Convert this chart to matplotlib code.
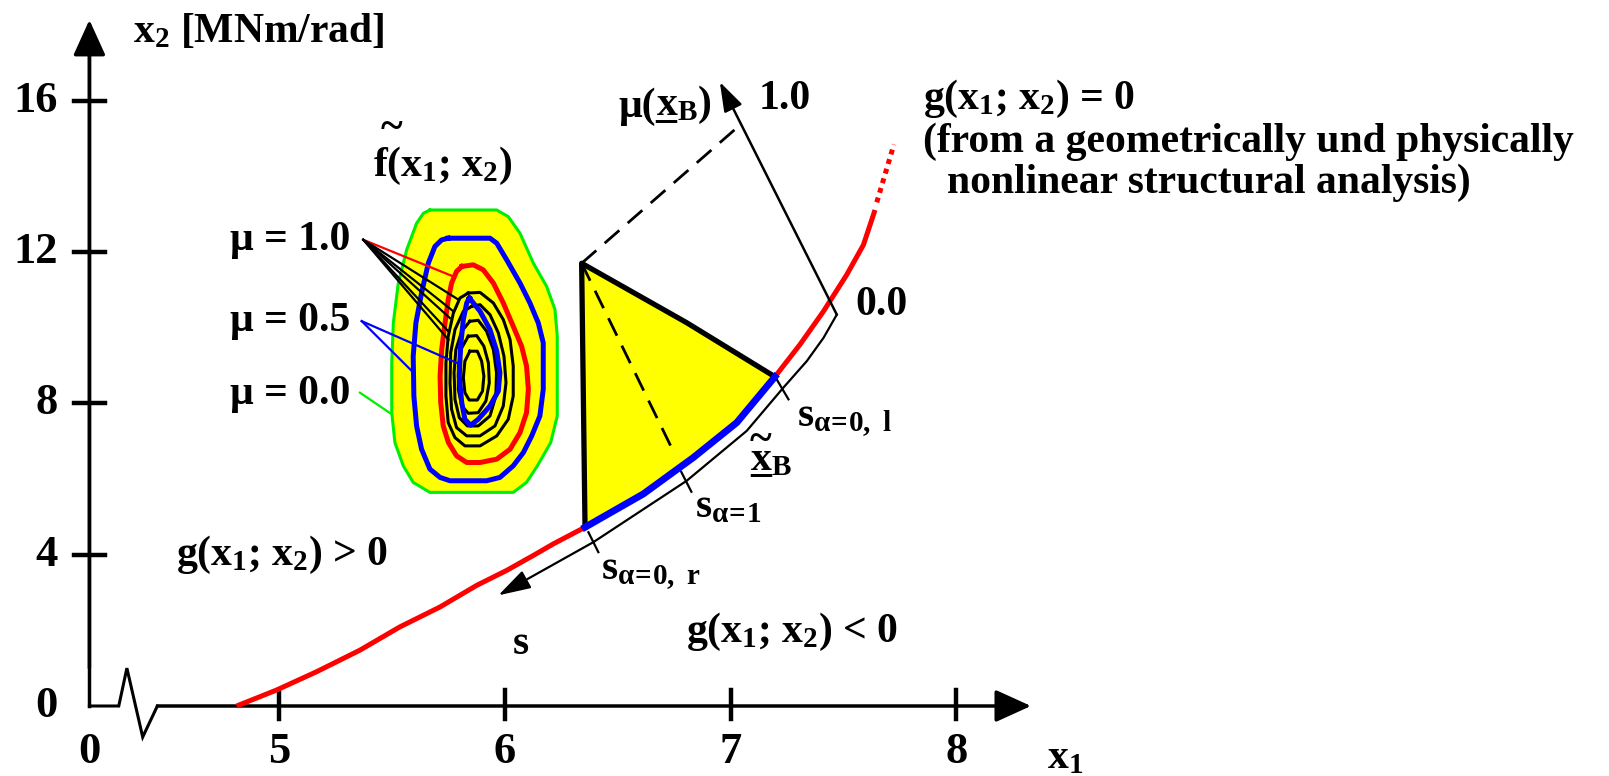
import matplotlib.pyplot as plt

plt.rcParams['font.family'] = ['Liberation Serif', 'DejaVu Serif']
plt.rcParams['font.weight'] = 'bold'
plt.rcParams['font.size'] = 30
plt.rcParams['mathtext.fontset'] = 'custom'
plt.rcParams['mathtext.rm'] = 'Liberation Serif:bold'
plt.rcParams['mathtext.it'] = 'Liberation Serif:bold'
plt.rcParams['mathtext.bf'] = 'Liberation Serif:bold'

# axes (x1 axis is broken, its origin is labelled 0)
x_ticks = [5, 6, 7, 8]
y_ticks = [0, 4, 8, 12, 16]
x_start, x_end, y_end = 4.16, 8.33, 18.13
brk_x1 = [4.16, 4.29, 4.326, 4.396, 4.461]
brk_x2 = [0, 0, 1.0, -0.82, 0]

# limit state g(x1; x2) = 0
g_x1 = [4.812, 4.989, 5.166, 5.358, 5.535, 5.713, 5.875, 6.008, 6.126, 6.215,
        6.355, 6.613, 6.835, 7.027, 7.196, 7.307, 7.411, 7.514, 7.588, 7.632, 7.639]
g_x2 = [0.0, 0.422, 0.905, 1.475, 2.090, 2.617, 3.187, 3.583, 3.978, 4.285,
        4.724, 5.603, 6.567, 7.489, 8.700, 9.552, 10.43, 11.396, 12.186, 12.976, 13.108]
g_ext_x1 = [7.647, 7.723]
g_ext_x2 = [13.31, 14.84]

# fuzzy design point x_B on the limit state
xb_x1 = [6.355, 6.613, 6.835, 7.027, 7.196]
xb_x2 = [4.724, 5.603, 6.567, 7.489, 8.700]
apex = (6.34, 11.70)
right_mid = (6.805, 10.13)

# s coordinate along the limit state and the mu axis
s_x1 = [5.971, 6.392, 6.805, 7.071, 7.233, 7.337, 7.411, 7.470]
s_x2 = [2.924, 4.330, 5.951, 7.270, 8.410, 9.113, 9.727, 10.342]
mu_tip = (6.952, 16.49)
mu_one = (7.041, 15.35)
s_alpha1 = (6.755, 6.62)
s_marks = [((6.370, 4.592), (6.414, 4.065)),
           ((6.781, 6.189), (6.826, 5.662)),
           ((7.204, 8.630), (7.256, 8.104))]

# fuzzy probability density f(x1; x2): alpha-level contours
green = [(5.668, 13.108), (5.964, 13.108), (6.015, 12.932), (6.067, 12.493),
         (6.126, 11.703), (6.185, 11.088), (6.222, 10.474), (6.232, 9.772),
         (6.232, 7.664), (6.203, 6.962), (6.144, 6.347), (6.096, 5.909),
         (6.037, 5.645), (5.668, 5.645), (5.594, 5.909), (5.550, 6.347),
         (5.513, 6.962), (5.499, 7.752), (5.499, 9.069), (5.506, 10.123),
         (5.528, 11.176), (5.565, 12.054), (5.609, 12.757), (5.639, 13.02)]
blue_outer = [(5.749, 12.362), (5.934, 12.362), (5.964, 12.230), (6.008, 11.791),
              (6.067, 11.176), (6.111, 10.650), (6.148, 10.123), (6.170, 9.596),
              (6.170, 8.367), (6.155, 7.664), (6.119, 7.138), (6.082, 6.698),
              (6.037, 6.347), (5.978, 6.040), (5.919, 5.952), (5.757, 5.952),
              (5.713, 6.040), (5.668, 6.260), (5.631, 6.787), (5.609, 7.401),
              (5.597, 8.191), (5.594, 9.245), (5.606, 10.123), (5.631, 10.913),
              (5.661, 11.703), (5.690, 12.142), (5.720, 12.318)]
red = [(5.809, 11.615), (5.860, 11.659), (5.904, 11.527), (5.949, 11.176),
       (5.993, 10.650), (6.037, 10.035), (6.074, 9.508), (6.096, 8.981),
       (6.104, 8.367), (6.096, 7.752), (6.067, 7.225), (6.023, 6.786),
       (5.964, 6.523), (5.890, 6.435), (5.831, 6.435), (5.786, 6.611),
       (5.750, 6.962), (5.727, 7.401), (5.716, 8.016), (5.713, 8.718),
       (5.720, 9.420), (5.735, 10.123), (5.749, 10.737), (5.764, 11.176),
       (5.786, 11.484)]
black_rings = [
    [(5.838, 10.913), (5.890, 10.930), (5.949, 10.650), (5.993, 10.211),
     (6.023, 9.684), (6.037, 8.981), (6.037, 8.191), (6.015, 7.577),
     (5.964, 7.138), (5.890, 6.874), (5.823, 6.874), (5.779, 7.094),
     (5.749, 7.489), (5.739, 8.191), (5.739, 9.069), (5.749, 9.772),
     (5.772, 10.386), (5.801, 10.781)],
    [(5.853, 10.562), (5.890, 10.606), (5.934, 10.342), (5.971, 9.859),
     (5.996, 9.245), (6.005, 8.542), (5.993, 7.928), (5.956, 7.401),
     (5.890, 7.138), (5.831, 7.138), (5.786, 7.357), (5.764, 7.840),
     (5.757, 8.542), (5.760, 9.332), (5.779, 9.947), (5.816, 10.430)],
    [(5.845, 10.167), (5.882, 10.193), (5.919, 9.903), (5.949, 9.420),
     (5.963, 8.806), (5.960, 8.191), (5.934, 7.664), (5.882, 7.401),
     (5.834, 7.401), (5.798, 7.621), (5.779, 8.103), (5.775, 8.806),
     (5.783, 9.420), (5.809, 9.903)],
    [(5.838, 9.772), (5.875, 9.789), (5.907, 9.508), (5.927, 9.069),
     (5.931, 8.542), (5.916, 8.060), (5.882, 7.752), (5.838, 7.735),
     (5.809, 7.928), (5.794, 8.367), (5.794, 8.981), (5.809, 9.464)],
    [(5.845, 9.376), (5.878, 9.376), (5.897, 9.113), (5.907, 8.718),
     (5.901, 8.323), (5.878, 8.086), (5.842, 8.086), (5.823, 8.279),
     (5.816, 8.674), (5.823, 9.113)],
]
blue_inner = [(5.843, 10.781), (5.890, 10.430), (5.934, 9.947), (5.964, 9.376),
              (5.978, 8.806), (5.971, 8.323), (5.934, 7.928), (5.882, 7.577),
              (5.848, 7.419), (5.823, 7.577), (5.809, 8.016), (5.798, 8.718),
              (5.804, 9.508), (5.816, 10.211), (5.831, 10.650)]

# leader lines from the mu labels
lead_10 = (5.373, 12.32)
lead_10_red = (5.772, 11.35)
lead_10_black = [(5.794, 10.74), (5.772, 10.43), (5.757, 10.25), (5.75, 9.90), (5.75, 9.68)]
lead_05 = (5.366, 10.17)
lead_05_blue = [(5.595, 8.81), (5.786, 9.07)]
lead_00 = (5.358, 8.28)
lead_00_green = (5.499, 7.71)


def closed(pts):
    xs = [p[0] for p in pts] + [pts[0][0]]
    ys = [p[1] for p in pts] + [pts[0][1]]
    return xs, ys


fig = plt.figure(figsize=(16.09, 7.76), dpi=100)
ax = fig.add_axes([0, 0, 1, 1])
ax.set_xlim(3.764, 10.890)
ax.set_ylim(-1.850, 18.657)
ax.axis('off')

head = dict(arrowstyle='-|>,head_length=1.1,head_width=0.5', color='k',
            lw=2.5, mutation_scale=20, shrinkA=0, shrinkB=0)

# coordinate axes
ax.plot(brk_x1, brk_x2, color='k', lw=2.2, solid_joinstyle='miter')
ax.plot([x_start, x_start], [0, y_end - 0.5], color='k', lw=2.5)
ax.annotate('', xy=(x_start, y_end), xytext=(x_start, 1), arrowprops=head)
ax.annotate('', xy=(x_end, 0), xytext=(brk_x1[-1], 0), arrowprops=head)
for t in x_ticks:
    ax.plot([t, t], [-0.35, 0.42], color='k', lw=3.2)
    ax.text(t, -1.22, str(t), ha='center', va='center', fontsize=32)
ax.text(x_start, -1.22, '0', ha='center', va='center', fontsize=32)
for t in y_ticks[1:]:
    ax.plot([4.092, 4.229], [t, t], color='k', lw=3.2)
for t in y_ticks:
    ax.text(4.02, t, str(t), ha='right', va='center', fontsize=32)
ax.text(4.353, 17.55, r'x$_2$ [MNm/rad]', ha='left', va='baseline')
ax.text(8.40, -1.64, r'x$_1$', ha='left', va='baseline')

# fuzzy density contours
gx, gy = closed(green)
ax.fill(gx, gy, color='#ffff00', zorder=2)
ax.plot(gx, gy, color='#00ee00', lw=2.2, zorder=3)
bx, by = closed(blue_outer)
ax.plot(bx, by, color='#0000ff', lw=3.6, zorder=3)
rx, ry = closed(red)
ax.plot(rx, ry, color='#ff0000', lw=3.6, zorder=3)
for ring in black_rings:
    kx, ky = closed(ring)
    ax.plot(kx, ky, color='k', lw=2.2, zorder=4)
ix, iy = closed(blue_inner)
ax.plot(ix, iy, color='#0000ff', lw=3.6, zorder=5)

# leader lines
ax.plot([lead_10[0], lead_10_red[0]], [lead_10[1], lead_10_red[1]], color='#ff0000', lw=1.6, zorder=6)
for p in lead_10_black:
    ax.plot([lead_10[0], p[0]], [lead_10[1], p[1]], color='k', lw=1.6, zorder=6)
for p in lead_05_blue:
    ax.plot([lead_05[0], p[0]], [lead_05[1], p[1]], color='#0000ff', lw=1.6, zorder=6)
ax.plot([lead_00[0], lead_00_green[0]], [lead_00[1], lead_00_green[1]], color='#00ee00', lw=1.6, zorder=6)

ax.text(4.782, 12.05, 'μ = 1.0', ha='left', va='baseline')
ax.text(4.782, 9.90, 'μ = 0.5', ha='left', va='baseline')
ax.text(4.782, 7.99, 'μ = 0.0', ha='left', va='baseline')
ax.text(5.418, 14.0, r'f(x$_1$; x$_2$)', ha='left', va='baseline')
ax.annotate('~', xy=(5.418, 14.0), xytext=(13, 27), textcoords='offset points',
            ha='center', va='baseline')

# membership function of x_B over the limit state
poly_x = [apex[0]] + xb_x1 + [right_mid[0], apex[0]]
poly_y = [apex[1]] + xb_x2 + [right_mid[1], apex[1]]
ax.fill(poly_x, poly_y, color='#ffff00', zorder=2)
ax.plot([xb_x1[0], apex[0], right_mid[0], xb_x1[-1]],
        [xb_x2[0], apex[1], right_mid[1], xb_x2[-1]], color='k', lw=3.8,
        solid_joinstyle='round', zorder=4)
ax.plot([apex[0], s_alpha1[0]], [apex[1], s_alpha1[1]], color='k', lw=2,
        dashes=(7, 4), zorder=4)
ax.plot([apex[0], mu_one[0]], [apex[1], mu_one[1]], color='k', lw=2,
        dashes=(7, 4), zorder=4)

# limit state curve
ax.plot(g_x1, g_x2, color='#ff0000', lw=3.6, zorder=3, solid_capstyle='butt')
ax.plot(g_ext_x1, g_ext_x2, color='#ff0000', lw=3.6, ls=(0, (1, 1)), zorder=3)
ax.plot(xb_x1, xb_x2, color='#0000ff', lw=5, zorder=5)

# s coordinate and mu axis
ax.plot(s_x1[1:], s_x2[1:], color='k', lw=1.6, zorder=4)
ax.annotate('', xy=(s_x1[0], s_x2[0]), xytext=(s_x1[1], s_x2[1]),
            arrowprops=dict(arrowstyle='-|>,head_length=1.0,head_width=0.3', color='k',
                            lw=1.6, mutation_scale=20, shrinkA=0, shrinkB=0), zorder=4)
ax.annotate('', xy=mu_tip, xytext=(s_x1[-1], s_x2[-1]),
            arrowprops=dict(arrowstyle='-|>,head_length=0.9,head_width=0.3', color='k',
                            lw=1.8, mutation_scale=20, shrinkA=0, shrinkB=0), zorder=4)
for a, b in s_marks:
    ax.plot([a[0], b[0]], [a[1], b[1]], color='k', lw=1.6, zorder=4)

# labels on the right
mu_lbl = ax.text(6.502, 15.57, 'μ(', ha='left', va='baseline')
ax.annotate(r'x$_\mathrm{B}$)', xy=(1, 0), xycoords=mu_lbl, ha='left', va='bottom')
ax.annotate('_', xy=(1, 0), xycoords=mu_lbl, ha='left', va='bottom')
ax.text(7.123, 15.78, '1.0', ha='left', va='baseline')
ax.text(7.551, 10.34, '0.0', ha='left', va='baseline')

ax.text(7.85, 15.78, r'g(x$_1$; x$_2$) = 0', ha='left', va='baseline')
ax.text(7.85, 14.65, '(from a geometrically und physically', ha='left', va='baseline')
ax.text(7.957, 13.57, 'nonlinear structural analysis)', ha='left', va='baseline')
ax.text(4.545, 3.73, r'g(x$_1$; x$_2$) > 0', ha='left', va='baseline')
ax.text(6.80, 1.70, r'g(x$_1$; x$_2$) < 0', ha='left', va='baseline')

ax.text(6.036, 1.38, 's', ha='left', va='baseline')
ax.text(6.427, 3.36, r's$_{\alpha\!=\!0,\ r}$', ha='left', va='baseline')
ax.text(6.842, 4.99, r's$_{\alpha\!=\!1}$', ha='left', va='baseline')
ax.text(7.292, 7.40, r's$_{\alpha\!=\!0,\ l}$', ha='left', va='baseline')
ax.text(7.086, 6.22, r'x$_\mathrm{B}$', ha='left', va='baseline')
ax.text(7.086, 6.22, '_', ha='left', va='baseline')
ax.annotate('~', xy=(7.086, 6.22), xytext=(7.5, 14), textcoords='offset points',
            ha='center', va='baseline')

fig.savefig('out.png', dpi=100, facecolor='white')
